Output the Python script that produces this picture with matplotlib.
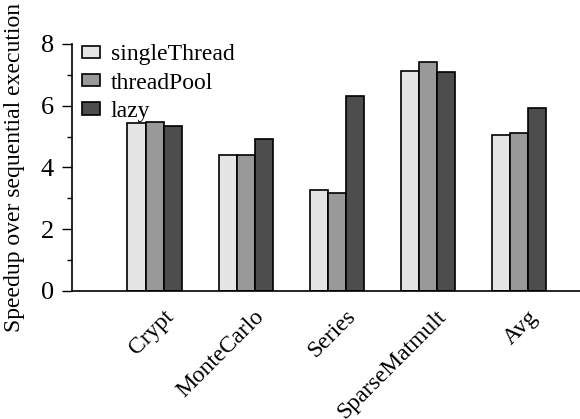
import numpy as np
import matplotlib
matplotlib.use("Agg")
import matplotlib.pyplot as plt
from matplotlib.transforms import ScaledTranslation

plt.rcParams["font.family"] = ["Liberation Serif", "DejaVu Serif"]

benchmarks = ["Crypt", "MonteCarlo", "Series", "SparseMatmult", "Avg"]
single_thread = [5.45, 4.40, 3.27, 7.13, 5.06]
thread_pool = [5.46, 4.41, 3.18, 7.41, 5.12]
lazy = [5.35, 4.92, 6.32, 7.10, 5.92]

series = [("singleThread", single_thread, "#e5e5e5"),
          ("threadPool", thread_pool, "#999999"),
          ("lazy", lazy, "#4d4d4d")]

fig = plt.figure(figsize=(5.8, 4.19), dpi=100)
ax = fig.add_axes([0.124, 0.3055, 0.876, 0.5895])

x = np.arange(len(benchmarks))
width = 0.2
for i, (name, vals, color) in enumerate(series):
    ax.bar(x + (i - 1) * width, vals, width, color=color, edgecolor="black",
           linewidth=1.2, label=name)

ax.set_xlim(-0.91, 4.67)
ax.set_ylim(0, 8)
ax.set_yticks([0, 2, 4, 6, 8])
ax.set_yticks([1, 3, 5, 7], minor=True)
ax.tick_params(axis="y", which="major", length=7, width=1, labelsize=19, pad=6)
ax.tick_params(axis="y", which="minor", length=3.6, width=1)
ax.set_xticks(x)
ax.set_xticklabels(benchmarks, rotation=45, ha="right", rotation_mode="anchor",
                   fontsize=17)
ax.tick_params(axis="x", length=0, pad=8)
# nudge the rotated labels a bit right and down
shift = ScaledTranslation(8 / 100, -4 / 100, fig.dpi_scale_trans)
for lbl in ax.get_xticklabels():
    lbl.set_transform(lbl.get_transform() + shift)
for side in ["top", "right"]:
    ax.spines[side].set_visible(False)
for side in ["left", "bottom"]:
    ax.spines[side].set_linewidth(1.2)

ax.set_ylabel("Speedup over sequential execution", fontsize=17, labelpad=11)

ax.legend(loc="upper left", bbox_to_anchor=(-0.012, 1.065), frameon=False,
          fontsize=17, handlelength=0.75, handleheight=0.45,
          handletextpad=0.45, labelspacing=0.3, borderaxespad=0.3)

fig.savefig("out.png", dpi=100)
